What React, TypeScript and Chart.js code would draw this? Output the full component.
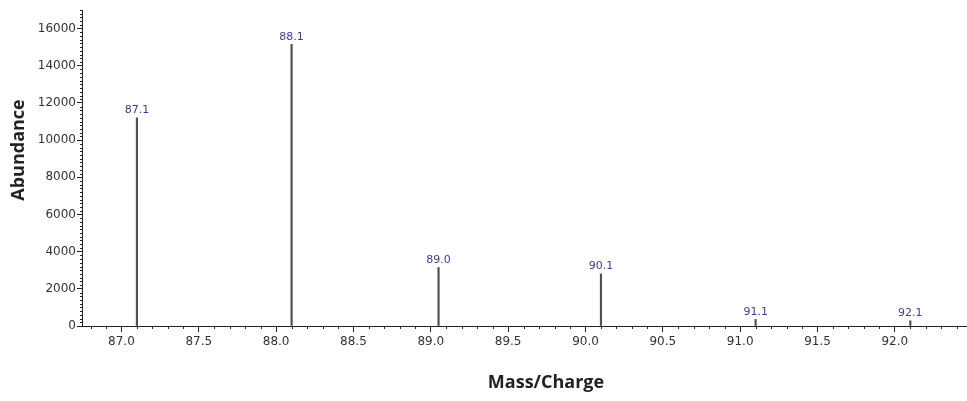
import React, { useEffect, useRef } from "react";
import { Chart, registerables } from "chart.js";

Chart.register(...registerables);

// Mass spectrum peaks: m/z positions and abundances
const massToCharge = [87.1, 88.1, 89.05, 90.1, 91.1, 92.1];
const abundance = [11200, 15150, 3150, 2800, 350, 280];
const peakLabels = massToCharge.map((m) => m.toFixed(1));

// Axis tick values
const xMajorTicks = [87.0, 87.5, 88.0, 88.5, 89.0, 89.5, 90.0, 90.5, 91.0, 91.5, 92.0];
const yMajorTicks = [0, 2000, 4000, 6000, 8000, 10000, 12000, 14000, 16000];

const X_MIN = 86.745;
const X_MAX = 92.46;
const Y_MAX = 17000;

const TICK_FONT = { family: "DejaVu Sans", size: 12 };
const TITLE_FONT = "bold 18px 'Open Sans', 'DejaVu Sans', sans-serif";

// Small minor ticks along both axes
const minorTicks = {
  id: "minorTicks",
  afterDraw(chart: any) {
    const { ctx, chartArea, scales } = chart;
    const xs = scales.x;
    const ys = scales.y;
    ctx.save();
    ctx.strokeStyle = "#222";
    ctx.lineWidth = 1;
    ctx.beginPath();
    for (let i = 868; i <= 924; i++) {
      const v = i / 10;
      if (v < X_MIN || v > X_MAX) continue;
      if (i % 5 === 0) continue;
      const px = Math.round(xs.getPixelForValue(v)) + 0.5;
      ctx.moveTo(px, chartArea.bottom);
      ctx.lineTo(px, chartArea.bottom + 3);
    }
    for (let v = 200; v <= Y_MAX; v += 200) {
      if (v % 2000 === 0) continue;
      const py = Math.round(ys.getPixelForValue(v)) + 0.5;
      ctx.moveTo(chartArea.left, py);
      ctx.lineTo(chartArea.left - 2, py);
    }
    ctx.stroke();
    ctx.restore();
  },
};

// Peak annotations above each line
const peakText = {
  id: "peakText",
  afterDatasetsDraw(chart: any) {
    const { ctx } = chart;
    const meta = chart.getDatasetMeta(0);
    ctx.save();
    ctx.font = "11px 'DejaVu Sans', sans-serif";
    ctx.fillStyle = "#3c3c96";
    ctx.textAlign = "center";
    ctx.textBaseline = "bottom";
    meta.data.forEach((el: any, i: number) => {
      ctx.fillText(peakLabels[i], el.x, el.y - 2);
    });
    ctx.restore();
  },
};

// Axis titles
const axisTitles = {
  id: "axisTitles",
  afterDraw(chart: any) {
    const { ctx } = chart;
    ctx.save();
    ctx.font = TITLE_FONT;
    ctx.fillStyle = "#222";
    ctx.textAlign = "center";
    ctx.textBaseline = "middle";
    ctx.fillText("Mass/Charge", 546, 383);
    ctx.translate(19, 150);
    ctx.rotate(-Math.PI / 2);
    ctx.fillText("Abundance", 0, 0);
    ctx.restore();
  },
};

export default function App() {
  const canvasRef = useRef<HTMLCanvasElement>(null);

  useEffect(() => {
    if (!canvasRef.current) return;
    const chart = new Chart(canvasRef.current, {
      type: "bar",
      data: {
        datasets: [
          {
            data: massToCharge.map((m, i) => ({ x: m, y: abundance[i] })),
            backgroundColor: "#505050",
            barThickness: 1.5,
            borderWidth: 0,
          },
        ],
      },
      options: {
        animation: false,
        responsive: false,
        maintainAspectRatio: false,
        layout: { padding: { top: 10, right: 1, left: 0, bottom: 0 } },
        plugins: {
          legend: { display: false },
          tooltip: { enabled: false },
        },
        scales: {
          x: {
            type: "linear",
            min: X_MIN,
            max: X_MAX,
            offset: false,
            afterBuildTicks: (scale: any) => {
              scale.ticks = xMajorTicks.map((v) => ({ value: v }));
            },
            afterFit: (scale: any) => {
              scale.height = 75;
            },
            ticks: {
              font: TICK_FONT,
              color: "#333",
              padding: 3,
              maxRotation: 0,
              autoSkip: false,
              callback: (v: any) => Number(v).toFixed(1),
            },
            grid: {
              offset: false,
              drawOnChartArea: false,
              drawTicks: true,
              tickLength: 6,
              tickColor: "#222",
            },
            border: { display: true, color: "#222", width: 1 },
          },
          y: {
            type: "linear",
            min: 0,
            max: Y_MAX,
            afterBuildTicks: (scale: any) => {
              scale.ticks = yMajorTicks.map((v) => ({ value: v }));
            },
            afterFit: (scale: any) => {
              scale.width = 82;
            },
            ticks: {
              font: TICK_FONT,
              color: "#333",
              padding: 1,
              callback: (v: any) => String(v),
            },
            grid: {
              offset: false,
              drawOnChartArea: false,
              drawTicks: true,
              tickLength: 5,
              tickColor: "#222",
            },
            border: { display: true, color: "#222", width: 1 },
          },
        },
      },
      plugins: [minorTicks, peakText, axisTitles],
    });
    return () => chart.destroy();
  }, []);

  return (
    <div style={{ position: "absolute", left: 0, top: 0, width: 967, height: 401, background: "#fff" }}>
      <canvas ref={canvasRef} width={967} height={401} style={{ width: 967, height: 401, display: "block" }} />
    </div>
  );
}
